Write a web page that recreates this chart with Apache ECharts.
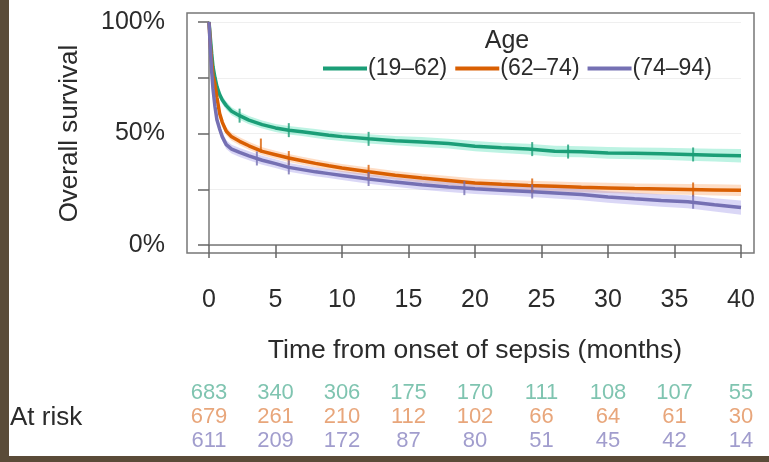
<!DOCTYPE html>
<html><head><meta charset="utf-8">
<script src="https://cdn.jsdelivr.net/npm/echarts@6/dist/echarts.min.js"></script>
<style>html,body{margin:0;padding:0;background:#fff}#c{width:769px;height:462px}</style>
</head><body><div id="c"></div>
<script>
const groups = ['(19–62)', '(62–74)', '(74–94)'];
const lineColors = ['#1b9e77', '#d95f02', '#7570b3'];
const bandColors = ['rgba(90,225,185,0.40)', 'rgba(252,170,110,0.40)', 'rgba(150,140,230,0.35)'];
const riskColors = ['#5fb59c', '#e2905a', '#8985c0'];

const months = [0, 0.1, 0.2, 0.3, 0.45, 0.6, 0.8, 1.0, 1.3, 1.7, 2.3, 3, 4, 5, 6, 7, 8, 9, 10, 12, 14, 16, 18, 20, 22, 24, 26, 28, 30, 32, 34, 36, 38, 40];
const survYoung = [100, 93, 86, 80, 75, 71, 67.5, 65, 62.5, 60, 58, 56, 54, 52.5, 51.5, 50.8, 50, 49.2, 48.6, 47.6, 46.8, 46.2, 45.5, 44.3, 43.6, 43, 42, 41.8, 41.3, 41.1, 40.9, 40.6, 40.3, 40];
const survMid = [100, 90, 82, 76, 72, 66, 59, 55, 51, 48.5, 46.5, 44.5, 42, 40.5, 39, 37.8, 36.6, 35.5, 34.5, 32.8, 31.3, 30, 28.9, 27.8, 27.2, 26.7, 26.3, 25.9, 25.6, 25.3, 25.1, 24.9, 24.7, 24.5];
const survOld = [100, 88, 78, 70, 62, 56, 52, 48.5, 45, 43, 41.5, 40, 38, 36.5, 34.8, 33.8, 32.8, 32, 31.2, 29.6, 28.2, 27, 26, 25.2, 24.6, 24, 23.3, 22.6, 21.5, 20.7, 20, 19.4, 18, 16.8];

const ciYoung = [0, 1, 1.5, 1.8, 1.8, 1.8, 1.8, 1.8, 1.8, 1.8, 1.8, 1.8, 1.8, 1.8, 1.9, 1.9, 2, 2, 2, 2.1, 2.1, 2.2, 2.2, 2.3, 2.3, 2.4, 2.5, 2.5, 2.6, 2.6, 2.7, 2.8, 2.9, 3];
const ciMid = [0, 1, 1.5, 1.8, 1.8, 1.8, 1.8, 1.8, 1.8, 1.8, 1.8, 1.8, 1.8, 1.8, 1.8, 1.8, 1.8, 1.8, 1.8, 1.9, 1.9, 2, 2, 2, 2.1, 2.1, 2.2, 2.2, 2.3, 2.3, 2.4, 2.4, 2.5, 2.5];
const ciOld = [0, 1, 1.5, 1.8, 2, 2, 2, 2, 2, 2, 2, 2, 2, 2, 2, 2, 2, 2, 2, 2.1, 2.1, 2.2, 2.2, 2.3, 2.3, 2.4, 2.5, 2.5, 2.6, 2.7, 2.8, 2.9, 3, 3.2];

const censorYoungT = [2.3, 6, 12, 24.3, 27, 36.4];
const censorYoungS = [58, 51.5, 47.6, 43, 41.9, 40.6];
const censorMidT = [3.9, 6, 12, 24.3, 36.4];
const censorMidS = [44.6, 39, 32.8, 26.7, 24.9];
const censorOldT = [3.6, 6, 12, 19.2, 24.3, 36.4];
const censorOldS = [38.8, 34.8, 29.6, 25.5, 24, 19.4];

const riskTimes = [0, 5, 10, 15, 20, 25, 30, 35, 40];
const riskYoung = [683, 340, 306, 175, 170, 111, 108, 107, 55];
const riskMid = [679, 261, 210, 112, 102, 66, 64, 61, 30];
const riskOld = [611, 209, 172, 87, 80, 51, 45, 42, 14];

const yTickLabels = {0: '0%', 50: '50%', 100: '100%'};

const FONT = "'Liberation Sans', Arial, sans-serif";
const TXT = '#2b2b2b';
const surv = [survYoung, survMid, survOld];
const cis = [ciYoung, ciMid, ciOld];
const censT = [censorYoungT, censorMidT, censorOldT];
const censS = [censorYoungS, censorMidS, censorOldS];
const risks = [riskYoung, riskMid, riskOld];

const series = [];
groups.forEach((g, i) => {
  series.push({
    type: 'custom', name: 'band' + i, silent: true, z: 1,
    renderItem: (params, api) => {
      const upper = months.map((t, k) => api.coord([t, surv[i][k] + cis[i][k]]));
      const lower = months.map((t, k) => api.coord([t, surv[i][k] - cis[i][k]])).reverse();
      return {type: 'polygon', shape: {points: upper.concat(lower)}, style: {fill: bandColors[i]}};
    },
    data: [[0, 0]]
  });
});
groups.forEach((g, i) => {
  series.push({
    type: 'line', name: g, symbol: 'none',
    lineStyle: {color: lineColors[i], width: 3.5}, itemStyle: {color: lineColors[i]},
    data: months.map((t, k) => [t, surv[i][k]]), z: 3
  });
  series.push({
    type: 'scatter', name: 'cens' + i, symbol: 'rect', symbolSize: [2, 14],
    itemStyle: {color: lineColors[i]}, silent: true,
    data: censT[i].map((t, k) => [t, censS[i][k]]), z: 4
  });
  series.push({
    type: 'scatter', xAxisIndex: 1, yAxisIndex: 1, symbolSize: 0, silent: true,
    label: {show: true, position: 'inside', formatter: p => String(p.value[2]),
      color: riskColors[i], fontSize: 22, fontFamily: FONT},
    data: riskTimes.map((t, k) => [t, i, risks[i][k]])
  });
});

const chart = echarts.init(document.getElementById('c'), null, {renderer: 'canvas'});
chart.setOption({
  animation: false,
  backgroundColor: '#fff',
  textStyle: {fontFamily: FONT},
  grid: [
    {left: 209, right: 28, top: 22, bottom: 217},
    {left: 209, right: 28, top: 381, height: 72}
  ],
  legend: {
    data: groups, left: 318, top: 52, icon: 'rect', itemWidth: 44, itemHeight: 4, itemGap: 8,
    textStyle: {fontSize: 23, color: TXT, fontFamily: FONT, padding: [0, 0, 0, -4]}
  },
  xAxis: [
    {type: 'value', gridIndex: 0, min: 0, max: 40, interval: 5, offset: 8,
      name: 'Time from onset of sepsis (months)', nameLocation: 'middle', nameGap: 84,
      nameTextStyle: {fontSize: 26.5, color: TXT, fontFamily: FONT},
      axisLine: {show: true, lineStyle: {color: '#777', width: 1.5}},
      axisTick: {show: true, length: 13, lineStyle: {color: '#666', width: 1.5}},
      axisLabel: {fontSize: 25, color: TXT, margin: 35, fontFamily: FONT},
      splitLine: {show: false}},
    {type: 'value', gridIndex: 1, min: 0, max: 40, show: false}
  ],
  yAxis: [
    {type: 'value', gridIndex: 0, min: 0, max: 100, interval: 25, offset: 22,
      name: 'Overall survival', nameLocation: 'middle', nameGap: 104,
      nameTextStyle: {fontSize: 26, color: TXT, fontFamily: FONT},
      axisLine: {show: true, lineStyle: {color: '#777', width: 1.5}},
      axisTick: {show: true, length: 11, lineStyle: {color: '#666', width: 1.5}},
      axisLabel: {fontSize: 25, color: TXT, margin: 22, fontFamily: FONT,
        formatter: v => yTickLabels[v] || ''},
      splitLine: {show: true, lineStyle: {color: '#efefef', width: 1}}},
    {type: 'category', gridIndex: 1, data: groups, inverse: true, show: false}
  ],
  graphic: [
    {type: 'rect', shape: {x: 187, y: 13, width: 567, height: 240}, silent: true, z: 0,
      style: {fill: 'none', stroke: '#777', lineWidth: 1.5}},
    {type: 'text', x: 507, y: 41, silent: true,
      style: {text: 'Age', fontSize: 25, fill: TXT, fontFamily: FONT, textAlign: 'center', textVerticalAlign: 'middle'}},
    {type: 'text', x: 10, y: 418, silent: true,
      style: {text: 'At risk', fontSize: 26, fill: TXT, fontFamily: FONT, textAlign: 'left', textVerticalAlign: 'middle'}},
    {type: 'rect', shape: {x: 0, y: 0, width: 9, height: 462}, silent: true, z: 100,
      style: {fill: '#5a4b38'}},
    {type: 'rect', shape: {x: 0, y: 456, width: 769, height: 6}, silent: true, z: 100,
      style: {fill: '#5a4b38'}}
  ],
  series: series
});
</script></body></html>
